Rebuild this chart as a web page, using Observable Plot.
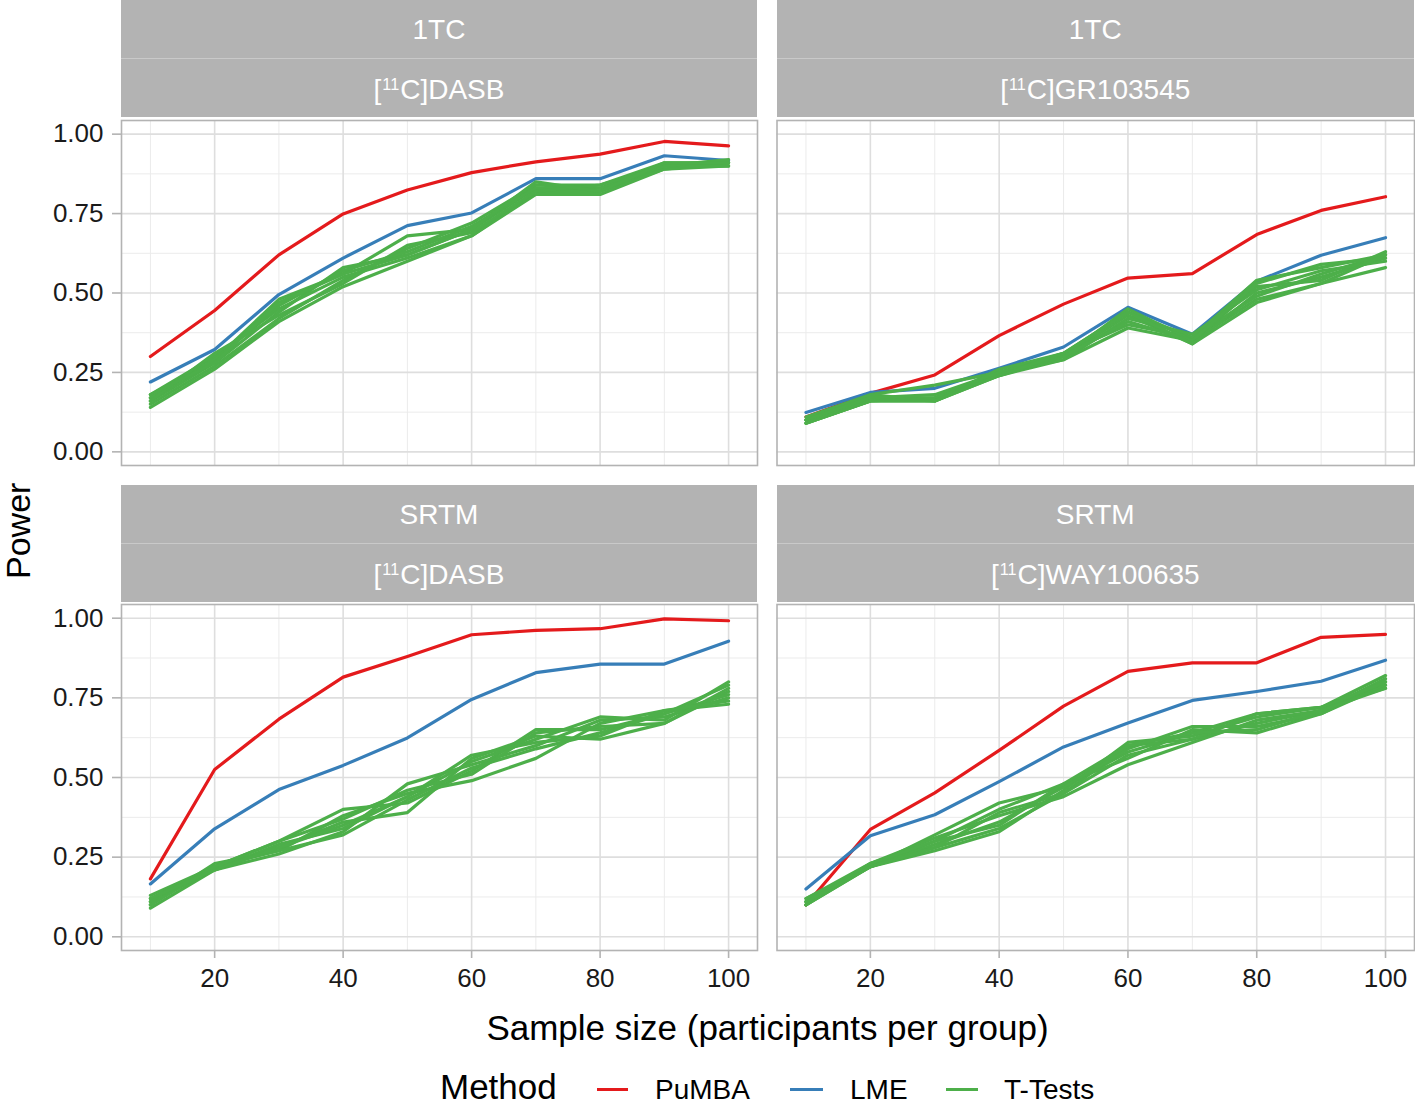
<!DOCTYPE html>
<html><head><meta charset="utf-8">
<script src="https://cdn.jsdelivr.net/npm/d3@7"></script>
<script src="https://cdn.jsdelivr.net/npm/@observablehq/plot@0.6"></script>
<style>
body{margin:0;background:#fff;}
#root{position:relative;width:1415px;height:1106px;overflow:hidden;font-family:"Liberation Sans",Arial,Helvetica,sans-serif;color:#000;}
.strip{position:absolute;background:#B3B3B3;color:#fff;font-size:28px;text-align:center;}
.abs{position:absolute;white-space:nowrap;}
.strip sup{font-size:0.58em;vertical-align:0.55em;line-height:0;margin-left:1px;margin-right:1px;}
svg{position:absolute;overflow:visible;}
</style></head><body><div id="root"></div>
<script>
// ---------- data ----------
const sampleSize = [10, 20, 30, 40, 50, 60, 70, 80, 90, 100];
const methods = ["PuMBA", "LME", "T-Tests"];
const methodColors = ["#E41A1C", "#377EB8", "#4DAF4A"];
const modelLabels = ["1TC", "1TC", "SRTM", "SRTM"];
const tracerLabels = ["DASB", "GR103545", "DASB", "WAY100635"];
const yTicks = [0, 0.25, 0.5, 0.75, 1];
const yMinor = [0.125, 0.375, 0.625, 0.875];
const xTicks = [20, 40, 60, 80, 100];
const xMinor = [10, 30, 50, 70, 90];

// 1TC [11C]DASB
const pumba_1tc_dasb = [0.30, 0.445, 0.62, 0.749, 0.824, 0.879, 0.913, 0.937, 0.977, 0.963];
const lme_1tc_dasb = [0.22, 0.322, 0.495, 0.61, 0.712, 0.752, 0.86, 0.86, 0.932, 0.917];
const ttests_1tc_dasb = [
  [0.17, 0.29, 0.48, 0.56, 0.68, 0.70, 0.84, 0.83, 0.90, 0.91],
  [0.16, 0.28, 0.44, 0.58, 0.62, 0.70, 0.83, 0.82, 0.90, 0.90],
  [0.15, 0.27, 0.42, 0.54, 0.64, 0.72, 0.84, 0.84, 0.91, 0.91],
  [0.18, 0.30, 0.45, 0.55, 0.61, 0.68, 0.82, 0.82, 0.89, 0.91],
  [0.14, 0.26, 0.41, 0.52, 0.60, 0.68, 0.81, 0.81, 0.89, 0.90],
  [0.17, 0.29, 0.46, 0.57, 0.63, 0.71, 0.83, 0.83, 0.90, 0.90],
  [0.16, 0.31, 0.43, 0.53, 0.65, 0.69, 0.82, 0.84, 0.90, 0.92],
  [0.18, 0.28, 0.47, 0.56, 0.62, 0.70, 0.85, 0.82, 0.91, 0.91]
];

// 1TC [11C]GR103545
const pumba_1tc_gr = [0.11, 0.184, 0.242, 0.366, 0.465, 0.547, 0.561, 0.684, 0.76, 0.803];
const lme_1tc_gr = [0.124, 0.187, 0.20, 0.263, 0.33, 0.455, 0.37, 0.537, 0.619, 0.674];
const ttests_1tc_gr = [
  [0.10, 0.18, 0.21, 0.25, 0.31, 0.44, 0.36, 0.54, 0.58, 0.62],
  [0.09, 0.16, 0.16, 0.24, 0.29, 0.39, 0.35, 0.48, 0.53, 0.58],
  [0.10, 0.17, 0.17, 0.25, 0.30, 0.43, 0.34, 0.50, 0.55, 0.61],
  [0.11, 0.18, 0.16, 0.26, 0.31, 0.40, 0.36, 0.49, 0.56, 0.62],
  [0.09, 0.16, 0.17, 0.24, 0.30, 0.45, 0.35, 0.52, 0.54, 0.63],
  [0.10, 0.17, 0.16, 0.25, 0.29, 0.42, 0.37, 0.51, 0.57, 0.60],
  [0.10, 0.17, 0.18, 0.25, 0.30, 0.41, 0.35, 0.53, 0.59, 0.61],
  [0.09, 0.16, 0.16, 0.24, 0.31, 0.44, 0.34, 0.47, 0.53, 0.62]
];

// SRTM [11C]DASB
const pumba_srtm_dasb = [0.182, 0.525, 0.683, 0.815, 0.88, 0.948, 0.962, 0.967, 0.998, 0.992];
const lme_srtm_dasb = [0.166, 0.339, 0.462, 0.538, 0.624, 0.745, 0.829, 0.856, 0.856, 0.928];
const ttests_srtm_dasb = [
  [0.11, 0.22, 0.30, 0.40, 0.42, 0.52, 0.65, 0.65, 0.70, 0.79],
  [0.09, 0.21, 0.26, 0.33, 0.48, 0.54, 0.60, 0.68, 0.69, 0.75],
  [0.12, 0.22, 0.28, 0.36, 0.39, 0.56, 0.63, 0.62, 0.67, 0.77],
  [0.10, 0.23, 0.27, 0.38, 0.45, 0.49, 0.56, 0.67, 0.71, 0.73],
  [0.11, 0.21, 0.29, 0.34, 0.44, 0.55, 0.62, 0.69, 0.68, 0.80],
  [0.13, 0.22, 0.27, 0.32, 0.43, 0.53, 0.59, 0.64, 0.70, 0.76],
  [0.10, 0.22, 0.30, 0.37, 0.46, 0.51, 0.64, 0.66, 0.67, 0.78],
  [0.12, 0.21, 0.28, 0.35, 0.44, 0.57, 0.61, 0.63, 0.71, 0.74]
];

// SRTM [11C]WAY100635
const pumba_srtm_way = [0.10, 0.337, 0.452, 0.585, 0.724, 0.833, 0.86, 0.86, 0.94, 0.949];
const lme_srtm_way = [0.15, 0.317, 0.383, 0.487, 0.596, 0.671, 0.742, 0.77, 0.802, 0.868];
const ttests_srtm_way = [
  [0.11, 0.22, 0.32, 0.42, 0.47, 0.58, 0.64, 0.70, 0.72, 0.82],
  [0.10, 0.23, 0.28, 0.34, 0.45, 0.60, 0.62, 0.67, 0.71, 0.79],
  [0.12, 0.22, 0.30, 0.40, 0.48, 0.56, 0.65, 0.64, 0.70, 0.80],
  [0.10, 0.22, 0.27, 0.33, 0.46, 0.61, 0.63, 0.69, 0.72, 0.78],
  [0.11, 0.23, 0.31, 0.38, 0.44, 0.54, 0.61, 0.68, 0.71, 0.81],
  [0.10, 0.22, 0.29, 0.36, 0.47, 0.59, 0.66, 0.66, 0.70, 0.79],
  [0.11, 0.22, 0.28, 0.39, 0.45, 0.57, 0.62, 0.70, 0.72, 0.80],
  [0.12, 0.23, 0.30, 0.35, 0.48, 0.60, 0.64, 0.65, 0.71, 0.78]
];

// ---------- build ----------
const panelData = [
  [pumba_1tc_dasb, lme_1tc_dasb, ttests_1tc_dasb],
  [pumba_1tc_gr, lme_1tc_gr, ttests_1tc_gr],
  [pumba_srtm_dasb, lme_srtm_dasb, ttests_srtm_dasb],
  [pumba_srtm_way, lme_srtm_way, ttests_srtm_way]
];

function toRows([pumba, lme, tt]) {
  const rows = [];
  pumba.forEach((v, i) => rows.push({n: sampleSize[i], power: v, method: "PuMBA", series: "PuMBA"}));
  lme.forEach((v, i) => rows.push({n: sampleSize[i], power: v, method: "LME", series: "LME"}));
  tt.forEach((s, j) => s.forEach((v, i) => rows.push({n: sampleSize[i], power: v, method: "T-Tests", series: "T" + j})));
  return rows;
}

const FONT = '"Liberation Sans", Arial, Helvetica, sans-serif';
const cols = [
  {left: 0, width: 760, ml: 121, mr: 3},
  {left: 760, width: 655, ml: 16.5, mr: 1}
];
const rowsL = [
  {stripTop: 0, top: 119, height: 347, mt: 1, mb: 1},
  {stripTop: 485, top: 603, height: 392, mt: 1, mb: 45}
];

const root = document.getElementById("root");

for (let p = 0; p < 4; p++) {
  const c = cols[p % 2], r = rowsL[Math.floor(p / 2)];
  const showY = p % 2 === 0, showX = p >= 2;
  const marks = [
    Plot.ruleX(xMinor, {stroke: "#EBEBEB", strokeWidth: 1}),
    Plot.ruleY(yMinor, {stroke: "#EBEBEB", strokeWidth: 1}),
    Plot.ruleX(xTicks, {stroke: "#DEDEDE", strokeWidth: 1.6}),
    Plot.ruleY(yTicks, {stroke: "#DEDEDE", strokeWidth: 1.6}),
    Plot.line(toRows(panelData[p]), {x: "n", y: "power", z: "series", stroke: "method", strokeWidth: 3.2, strokeLinejoin: "round"}),
    Plot.frame({stroke: "#B3B3B3", strokeWidth: 1.6})
  ];
  if (showY) marks.push(Plot.axisY(yTicks, {tickSize: 9, tickPadding: 9, tickFormat: d3.format(".2f"), stroke: "#B3B3B3", strokeWidth: 1.6, fill: "#1a1a1a", fontSize: 26, label: null}));
  if (showX) marks.push(Plot.axisX(xTicks, {tickSize: 8, tickPadding: 10, stroke: "#B3B3B3", strokeWidth: 1.6, fill: "#1a1a1a", fontSize: 26, label: null}));
  const chart = Plot.plot({
    width: c.width, height: r.height,
    marginLeft: c.ml, marginRight: c.mr, marginTop: r.mt, marginBottom: r.mb,
    x: {domain: [5.5, 104.5], ...(showX ? {} : {axis: null})},
    y: {domain: [-0.043, 1.043], ...(showY ? {} : {axis: null})},
    color: {domain: methods, range: methodColors},
    style: {fontFamily: FONT, fontSize: "26px", background: "transparent", color: "#1a1a1a"},
    marks
  });
  chart.style.left = c.left + "px";
  chart.style.top = r.top + "px";
  root.appendChild(chart);

  // strips
  const sx = c.left + c.ml, sw = c.width - c.ml - c.mr;
  const s1 = document.createElement("div");
  s1.className = "strip";
  Object.assign(s1.style, {left: sx + "px", top: r.stripTop + "px", width: sw + "px", height: "58px", lineHeight: "60px"});
  s1.textContent = modelLabels[p];
  root.appendChild(s1);
  const s2 = document.createElement("div");
  s2.className = "strip";
  Object.assign(s2.style, {left: sx + "px", top: (r.stripTop + 58) + "px", width: sw + "px", height: "59px", lineHeight: "62px", borderTop: "1px solid #C9C9C9", boxSizing: "border-box"});
  s2.innerHTML = "[<sup>11</sup>C]" + tracerLabels[p];
  root.appendChild(s2);
}

function addText(txt, style) {
  const d = document.createElement("div");
  d.className = "abs";
  d.textContent = txt;
  Object.assign(d.style, style);
  root.appendChild(d);
  return d;
}
// axis titles
addText("Sample size (participants per group)", {left: "121px", width: "1293px", textAlign: "center", top: "1008px", fontSize: "35px", lineHeight: "40px"});
addText("Power", {left: "1px", top: "481px", width: "34px", height: "100px", textAlign: "center", fontSize: "34px", lineHeight: "34px", writingMode: "vertical-rl", transform: "rotate(180deg)"});

// legend
addText("Method", {left: "440px", top: "1069px", fontSize: "35px", lineHeight: "36px"});
const legendPos = [[597, 31, 655], [790, 33, 850], [946, 32, 1004]];
methods.forEach((m, i) => {
  const [lx, lw, tx] = legendPos[i];
  const ln = document.createElement("div");
  ln.className = "abs";
  Object.assign(ln.style, {left: lx + "px", top: "1088px", width: lw + "px", height: "3px", background: methodColors[i]});
  root.appendChild(ln);
  addText(m, {left: tx + "px", top: "1073px", fontSize: "28px", lineHeight: "34px"});
});
</script></body></html>
